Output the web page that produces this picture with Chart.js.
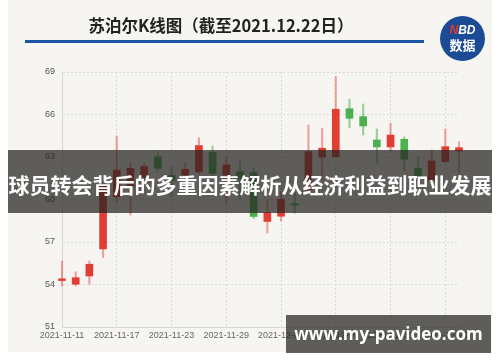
<!DOCTYPE html>
<html>
<head>
<meta charset="utf-8">
<script src="https://cdn.jsdelivr.net/npm/chart.js@4.4.1/dist/chart.umd.min.js"></script>
<style>
  html, body { margin: 0; padding: 0; background: #fff; }
  #card { position: absolute; left: 8px; top: 0; width: 484px; height: 352px; background: #f7f5f1; }
  #chart { position: absolute; left: 0; top: 0; }
  .title { position: absolute; left: 0; width: 442px; top: 14px; text-align: center;
    font: bold 16.5px "Noto Sans CJK SC", sans-serif; color: #222; line-height: 22px; }
  .rule { position: absolute; left: 25px; top: 40px; width: 399px; height: 3px; background: #1a55a6; }
  .logo { position: absolute; left: 440px; top: 16px; width: 45px; height: 45px; border-radius: 50%;
    background: #1c4b96; color: #fff; text-align: center; font-family: "Noto Sans CJK SC", sans-serif; font-weight: bold; }
  .logo .nbd { position: absolute; left: 0; right: 0; top: 8px; font: italic bold 12px "Liberation Sans", sans-serif; line-height: 12px; }
  .logo .nbd b { color: #e8392f; }
  .logo .sj { position: absolute; left: 0; right: 0; top: 21px; font-size: 13px; line-height: 15px; }
  .band { position: absolute; left: 8px; top: 150px; width: 484px; height: 63px; background: rgba(36,34,32,0.72);
    color: #fff; font: bold 21px "Noto Sans CJK SC", sans-serif; text-align: center; line-height: 69px;
    white-space: nowrap; overflow: visible; z-index: 3; }
  .site { position: absolute; left: 286px; top: 315px; width: 205px; height: 38px; background: rgba(36,34,32,0.72);
    color: #fff; font: bold 17px "Open Sans", sans-serif; text-align: center; line-height: 38px;
    white-space: nowrap; z-index: 3; }
</style>
</head>
<body>
<div id="card"></div>
<canvas id="chart" width="500" height="362"></canvas>
<div class="title">苏泊尔K线图（截至2021.12.22日）</div>
<div class="rule"></div>
<div class="logo"><div class="nbd"><b>N</b>BD</div><div class="sj">数据</div></div>
<div class="band">球员转会背后的多重因素解析从经济利益到职业发展</div>
<div class="site">www.my-pavideo.com</div>
<script>
// trading days shown on the axis
const dates = [
  "2021-11-11", "2021-11-12", "2021-11-15", "2021-11-16", "2021-11-17",
  "2021-11-18", "2021-11-19", "2021-11-22", "2021-11-23", "2021-11-24",
  "2021-11-25", "2021-11-26", "2021-11-29", "2021-11-30", "2021-12-01",
  "2021-12-02", "2021-12-03", "2021-12-06", "2021-12-07", "2021-12-08",
  "2021-12-09", "2021-12-10", "2021-12-13", "2021-12-14", "2021-12-15",
  "2021-12-16", "2021-12-17", "2021-12-20", "2021-12-21", "2021-12-22"
];
const opens  = [54.28, 54.02, 54.60, 56.51, 60.20, 60.90, 61.60, 63.02, 61.70, 61.73,
                61.96, 63.32, 61.73, 61.96, 61.90, 58.45, 58.82, 59.62, 60.67, 63.00,
                63.02, 66.41, 65.85, 64.20, 63.71, 64.25, 62.20, 61.38, 62.67, 63.42];
const closes = [54.40, 54.48, 55.43, 60.95, 62.08, 62.20, 62.32, 62.20, 61.35, 62.13,
                63.81, 61.85, 62.44, 61.52, 58.80, 59.07, 60.02, 59.60, 63.38, 63.62,
                66.37, 65.73, 65.19, 63.71, 64.55, 62.84, 61.61, 62.72, 63.73, 63.66];
const highs  = [55.65, 54.90, 55.66, 61.10, 64.48, 62.60, 62.58, 63.35, 62.30, 62.60,
                64.36, 63.78, 62.98, 62.67, 62.20, 59.97, 60.55, 60.55, 65.26, 65.01,
                68.67, 67.09, 66.74, 64.98, 65.38, 64.43, 62.98, 63.50, 64.96, 64.08];
const lows   = [53.90, 53.90, 54.02, 55.90, 59.83, 58.90, 61.20, 62.00, 60.20, 61.30,
                61.80, 61.66, 59.73, 60.10, 58.65, 57.64, 58.48, 59.03, 60.60, 61.40,
                62.95, 65.07, 64.55, 62.56, 63.39, 62.03, 61.30, 61.17, 62.58, 61.85];
const yTicks = [51, 54, 57, 60, 63, 66, 69];

const UP = "#e23d33", DOWN = "#4caf50";
const UP_WICK = "rgba(226,61,51,0.45)", DOWN_WICK = "rgba(76,175,80,0.55)";
const rising = opens.map((o, i) => closes[i] >= o);

new Chart(document.getElementById("chart"), {
  type: "bar",
  data: {
    labels: dates,
    datasets: [
      {
        label: "wick",
        data: dates.map((d, i) => [lows[i], highs[i]]),
        backgroundColor: rising.map(r => r ? UP_WICK : DOWN_WICK),
        barThickness: 1.5,
        grouped: false,
        clip: false,
        order: 2
      },
      {
        label: "body",
        data: dates.map((d, i) => [opens[i], closes[i]]),
        backgroundColor: rising.map(r => r ? UP : DOWN),
        barThickness: 7,
        minBarLength: 1.5,
        grouped: false,
        clip: false,
        order: 1
      }
    ]
  },
  options: {
    responsive: false,
    animation: false,
    devicePixelRatio: 1,
    layout: { padding: { left: 0, top: 72, right: 41, bottom: 10 } },
    plugins: { legend: { display: false }, tooltip: { enabled: false } },
    scales: {
      x: {
        offset: false,
        grid: {
          offset: false,
          drawTicks: false,
          color: ctx => (ctx.index % 4 === 0 ? "#d9d9d9" : "transparent"),
          lineWidth: 1
        },
        border: { display: true, color: "#d6d6d6", dash: [2, 2] },
        ticks: {
          autoSkip: false,
          maxRotation: 0,
          padding: 3,
          color: "#666",
          font: { family: "Liberation Sans", size: 9 },
          callback: (v, i) => (i % 4 === 0 ? dates[i] : "")
        },
        afterFit: s => { s.height = 25; }
      },
      y: {
        min: 51,
        max: 69,
        afterBuildTicks: s => { s.ticks = yTicks.map(v => ({ value: v })); },
        grid: { drawTicks: false, color: "#d9d9d9" },
        border: { display: true, color: "#d6d6d6", dash: [2, 2] },
        ticks: {
          padding: 7,
          color: "#555",
          font: { family: "Liberation Sans", size: 9 }
        },
        afterFit: s => { s.width = 62; }
      }
    }
  }
});
</script>
</body>
</html>
